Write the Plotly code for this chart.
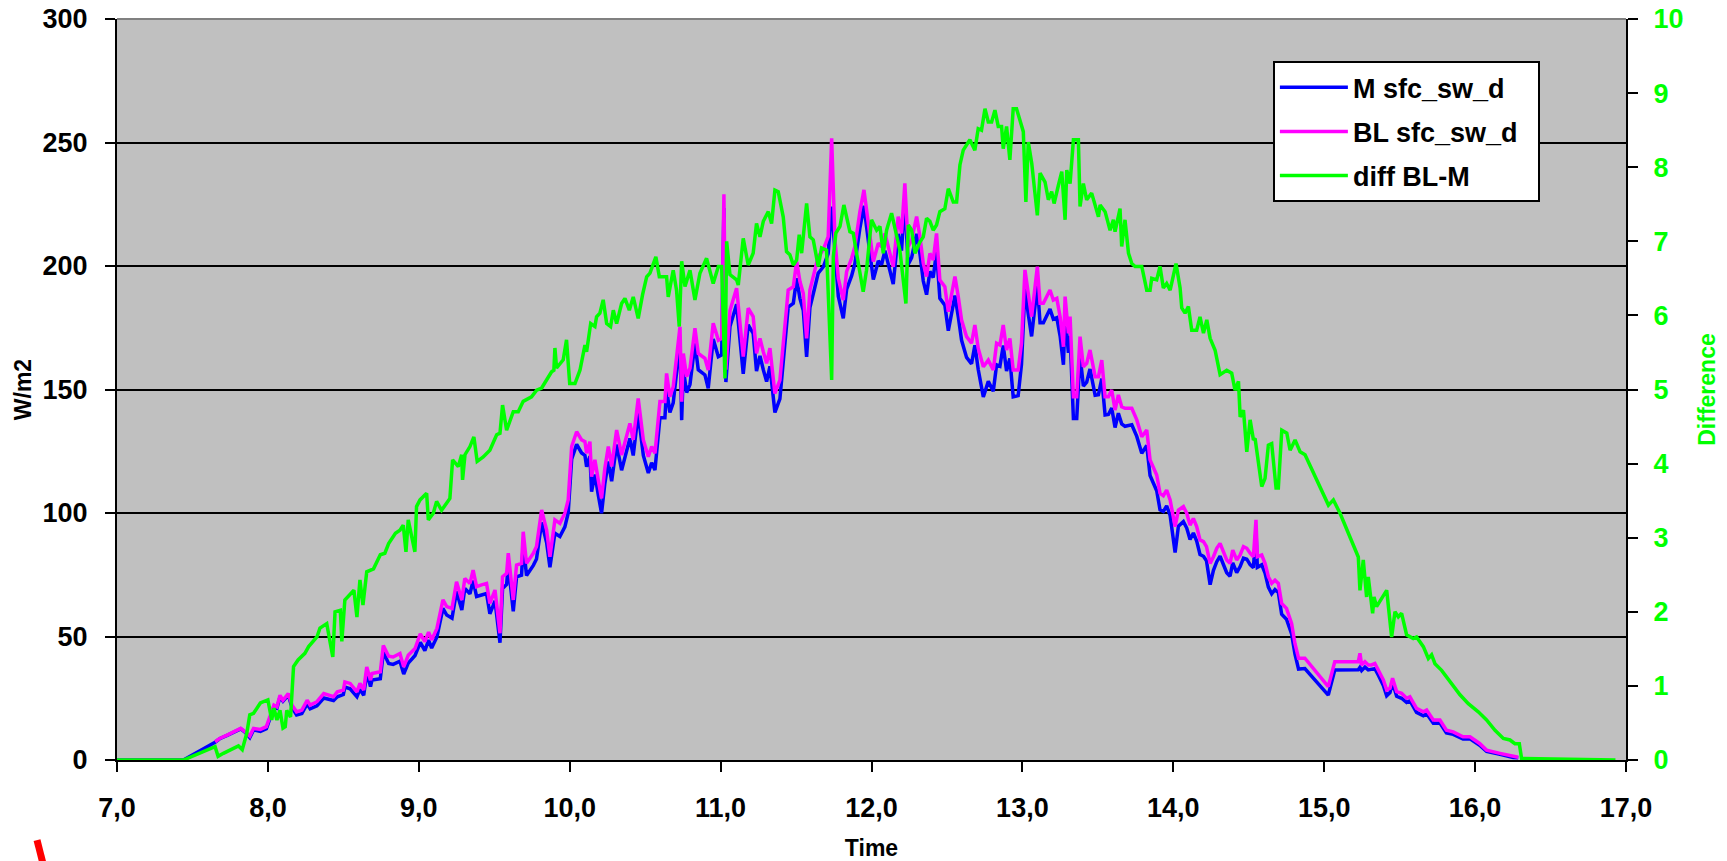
import plotly.graph_objects as go

# ---- shortwave series (shared time axis, hours) ----
t_sw = [
    7.00, 7.44, 7.65, 7.68, 7.73, 7.82, 7.85, 7.88, 7.905, 7.95,
    7.99, 8.015, 8.04, 8.06, 8.08, 8.10, 8.135, 8.16, 8.19, 8.225,
    8.26, 8.28, 8.325, 8.37, 8.435, 8.46, 8.50, 8.51, 8.545, 8.59,
    8.61, 8.635, 8.655, 8.68, 8.69, 8.745, 8.765, 8.80, 8.83, 8.875,
    8.90, 8.93, 8.975, 9.01, 9.04, 9.065, 9.085, 9.12, 9.16, 9.185,
    9.22, 9.25, 9.285, 9.305, 9.339, 9.36, 9.383, 9.416, 9.449, 9.471,
    9.505, 9.538, 9.555, 9.582, 9.593, 9.626, 9.648, 9.681, 9.692, 9.714,
    9.759, 9.78, 9.814, 9.847, 9.869, 9.902, 9.935, 9.968, 9.99, 10.013,
    10.046, 10.079, 10.101, 10.112, 10.134, 10.145, 10.167, 10.189, 10.211, 10.233,
    10.256, 10.278, 10.311, 10.344, 10.366, 10.399, 10.421, 10.454, 10.488, 10.521,
    10.543, 10.565, 10.598, 10.631, 10.642, 10.664, 10.686, 10.708, 10.731, 10.742,
    10.753, 10.775, 10.797, 10.83, 10.852, 10.896, 10.918, 10.951, 10.985, 11.007,
    11.022, 11.035, 11.062, 11.106, 11.15, 11.183, 11.216, 11.238, 11.261, 11.283,
    11.305, 11.327, 11.36, 11.393, 11.415, 11.448, 11.482, 11.504, 11.526, 11.548,
    11.57, 11.592, 11.625, 11.647, 11.68, 11.713, 11.736, 11.758, 11.78, 11.813,
    11.835, 11.868, 11.89, 11.923, 11.95, 11.967, 11.99, 12.012, 12.045, 12.067,
    12.089, 12.122, 12.144, 12.177, 12.199, 12.221, 12.243, 12.266, 12.299, 12.321,
    12.343, 12.365, 12.387, 12.409, 12.431, 12.453, 12.486, 12.509, 12.531, 12.553,
    12.575, 12.597, 12.63, 12.663, 12.685, 12.707, 12.741, 12.774, 12.807, 12.829,
    12.851, 12.873, 12.895, 12.917, 12.939, 12.972, 12.994, 13.017, 13.039, 13.061,
    13.099, 13.117, 13.139, 13.161, 13.183, 13.205, 13.228, 13.25, 13.272, 13.283,
    13.305, 13.316, 13.338, 13.36, 13.382, 13.404, 13.426, 13.448, 13.482, 13.504,
    13.526, 13.548, 13.57, 13.592, 13.614, 13.636, 13.658, 13.68, 13.725, 13.758,
    13.791, 13.824, 13.846, 13.89, 13.912, 13.934, 13.956, 13.979, 14.012, 14.034,
    14.067, 14.089, 14.111, 14.133, 14.155, 14.177, 14.2, 14.22, 14.244, 14.266,
    14.288, 14.31, 14.332, 14.354, 14.376, 14.394, 14.42, 14.443, 14.465, 14.487,
    14.509, 14.531, 14.548, 14.557, 14.586, 14.608, 14.63, 14.652, 14.674, 14.696,
    14.718, 14.75, 14.784, 14.806, 14.83, 14.872, 15.027, 15.07, 15.226, 15.237,
    15.248, 15.27, 15.292, 15.314, 15.336, 15.358, 15.392, 15.414, 15.436, 15.453,
    15.48, 15.513, 15.546, 15.568, 15.612, 15.657, 15.679, 15.723, 15.767, 15.81,
    15.855, 15.92, 15.966, 16.03, 16.076, 16.165, 16.253, 16.286,
]

bl_sw = [
    None, None, 7.4, 8.7, 10.1, 12.8, 11.4, 9.7, 12.8, 12.4,
    13.5, 18.2, 22.2, 21.5, 26.2, 24.2, 26.9, 22.2, 19.5, 20.2,
    24.2, 22.2, 23.6, 26.9, 25.6, 27.6, 28.3, 31.6, 31.0, 27.6,
    31.0, 28.3, 37.7, 32.3, 35.0, 35.7, 46.4, 42.0, 41.7, 43.1,
    37.7, 42.4, 45.1, 51.1, 47.9, 51.8, 48.6, 53.3, 64.8, 62.1,
    61.4, 72.2, 64.8, 73.5, 71.5, 76.9, 70.2, 70.9, 71.5, 63.4,
    68.8, 51.3, 74.2, 75.6, 83.7, 64.8, 78.9, 79.6, 92.4, 79.6,
    83.7, 86.4, 101.2, 93.1, 82.3, 97.2, 95.8, 99.9, 105.3, 126.9,
    132.9, 129.6, 128.9, 124.2, 128.9, 114.7, 121.5, 113.4, 105.9, 118.1,
    126.9, 118.8, 133.6, 123.5, 128.9, 136.3, 129.6, 146.4, 129.6, 122.8,
    126.9, 124.2, 145.1, 145.1, 156.5, 147.1, 151.1, 161.9, 175.4, 145.1,
    164.6, 155.2, 158.6, 174.8, 164.6, 162.6, 157.9, 176.8, 170.0, 170.7,
    229.0, 158.0, 182.0, 191.0, 163.3, 182.9, 179.5, 164.6, 170.7, 165.3,
    160.6, 166.7, 148.4, 153.8, 168.7, 190.3, 191.6, 201.8, 193.7, 188.9,
    170.7, 190.3, 198.4, 203.8, 206.5, 211.9, 251.7, 210.5, 195.0, 186.2,
    197.7, 203.1, 207.8, 222.0, 230.8, 222.7, 210.5, 201.8, 209.2, 207.8,
    213.2, 205.1, 199.7, 220.0, 213.2, 233.5, 207.8, 210.5, 220.0, 211.9,
    201.1, 195.7, 205.1, 202.4, 213.2, 194.3, 191.6, 181.5, 188.9, 195.7,
    187.6, 178.1, 171.4, 168.7, 176.1, 166.7, 159.2, 161.9, 157.9, 168.7,
    168.0, 176.1, 166.0, 170.7, 157.9, 157.9, 168.7, 198.4, 188.9, 179.5,
    199.7, 184.9, 184.9, 187.6, 190.3, 186.2, 186.9, 179.5, 167.3, 187.6,
    172.7, 179.5, 147.1, 147.1, 171.4, 159.2, 160.6, 166.0, 155.2, 155.2,
    161.9, 147.1, 147.1, 149.8, 141.7, 147.8, 143.0, 142.4, 142.4, 137.7,
    130.9, 133.6, 121.5, 115.4, 108.0, 107.0, 109.3, 105.3, 94.5, 101.2,
    102.6, 99.9, 95.1, 97.8, 94.5, 89.1, 88.4, 86.4, 79.6, 82.3,
    85.7, 87.7, 84.3, 81.0, 79.6, 85.0, 81.0, 83.0, 86.4, 85.7,
    83.7, 82.3, 97.2, 82.3, 83.0, 79.6, 74.2, 71.5, 72.8, 71.5,
    63.4, 61.4, 55.3, 47.2, 41.2, 41.2, 29.7, 39.8, 39.8, 43.2,
    38.5, 39.8, 38.5, 38.5, 39.1, 36.4, 32.4, 28.3, 29.0, 33.1,
    27.7, 27.0, 25.0, 25.6, 20.9, 19.5, 20.2, 16.2, 16.2, 12.1,
    11.4, 9.4, 9.4, 6.7, 4.0, 2.7, 1.3, 1.1,
]

m_sw = [
    0, 0, 7.2, 8.6, 10.0, 12.6, 11.2, 9.1, 12.2, 11.6,
    12.7, 17.6, 21.5, 21.0, 25.5, 23.8, 26.3, 21.2, 18.2, 18.8,
    22.7, 20.7, 21.9, 25.1, 24.1, 25.6, 26.5, 29.5, 28.8, 25.6,
    28.6, 26.2, 35.2, 29.7, 32.4, 32.9, 43.6, 39.1, 38.7, 40.0,
    34.8, 39.2, 42.3, 47.6, 44.3, 48.5, 45.3, 49.8, 61.4, 58.7,
    57.4, 68.2, 60.7, 69.4, 67.3, 72.6, 66.2, 66.8, 67.4, 59.2,
    64.4, 47.5, 69.4, 71.1, 79.0, 60.2, 74.2, 74.8, 87.6, 74.7,
    78.8, 81.4, 96.2, 88.0, 78.0, 91.8, 90.5, 94.4, 100.0, 121.8,
    127.8, 124.3, 123.3, 118.7, 123.0, 108.6, 115.6, 107.4, 99.9, 112.0,
    120.8, 112.9, 127.7, 117.3, 122.7, 130.2, 123.3, 140.4, 123.3, 116.2,
    120.3, 117.4, 138.6, 138.6, 150.0, 140.7, 144.6, 155.6, 169.5, 137.6,
    158.2, 148.8, 152.0, 168.6, 158.0, 155.9, 150.5, 170.4, 163.3, 164.0,
    223.5, 153.0, 175.5, 184.5, 156.3, 176.2, 172.7, 157.4, 163.6, 158.0,
    153.2, 159.4, 140.7, 146.2, 161.4, 183.4, 184.9, 195.0, 186.8, 182.0,
    163.2, 183.2, 191.5, 197.1, 199.6, 205.0, 224.0, 203.7, 187.8, 178.8,
    190.5, 196.0, 201.0, 215.3, 224.4, 216.0, 203.4, 194.5, 202.0, 200.6,
    206.2, 197.8, 192.7, 213.0, 206.2, 227.0, 200.6, 203.4, 213.0, 204.9,
    194.0, 188.4, 197.8, 195.3, 206.0, 186.9, 184.1, 173.8, 181.3, 188.0,
    179.5, 169.9, 163.0, 160.4, 167.9, 158.2, 147.0, 153.3, 149.3, 160.0,
    159.4, 167.8, 157.5, 162.6, 147.0, 147.5, 160.2, 190.9, 180.5, 171.5,
    192.3, 177.0, 177.0, 180.0, 182.6, 178.5, 179.1, 171.6, 160.0, 180.0,
    164.8, 171.7, 138.3, 138.3, 163.9, 151.4, 153.0, 158.3, 147.7, 147.9,
    154.4, 139.7, 139.9, 142.5, 134.6, 140.4, 136.1, 135.1, 135.7, 131.0,
    124.2, 127.3, 115.2, 109.0, 101.3, 100.6, 102.9, 99.0, 84.0, 94.7,
    96.5, 93.9, 89.3, 91.9, 88.6, 83.2, 82.5, 80.6, 71.0, 76.8,
    80.3, 82.5, 79.1, 75.8, 74.4, 79.8, 75.9, 78.3, 81.7, 81.3,
    79.1, 77.9, 92.9, 78.0, 79.0, 75.7, 70.0, 67.3, 69.0, 67.8,
    59.0, 57.0, 51.0, 43.0, 36.8, 37.0, 26.3, 36.4, 36.5, 37.5,
    36.2, 37.6, 36.5, 36.6, 37.0, 34.4, 30.2, 26.0, 27.3, 31.4,
    25.8, 25.0, 23.3, 24.0, 19.3, 17.9, 18.7, 14.9, 15.0, 11.0,
    10.4, 8.5, 8.6, 6.0, 3.5, 2.3, 1.0, 0.9,
]

# ---- difference series (right axis) ----
t_diff = [
    7.00, 7.44, 7.65, 7.67, 7.705, 7.805, 7.83, 7.86, 7.88, 7.905,
    7.95, 8.0, 8.025, 8.04, 8.06, 8.08, 8.10, 8.115, 8.125, 8.15,
    8.17, 8.20, 8.245, 8.27, 8.325, 8.345, 8.39, 8.43, 8.445, 8.48,
    8.49, 8.51, 8.57, 8.59, 8.61, 8.63, 8.655, 8.70, 8.745, 8.775,
    8.80, 8.845, 8.875, 8.897, 8.915, 8.93, 8.974, 8.985, 9.008, 9.052,
    9.063, 9.096, 9.118, 9.151, 9.206, 9.224, 9.262, 9.284, 9.29, 9.306,
    9.339, 9.365, 9.387, 9.427, 9.471, 9.516, 9.538, 9.555, 9.582, 9.626,
    9.659, 9.692, 9.747, 9.781, 9.814, 9.847, 9.88, 9.895, 9.902, 9.913,
    9.957, 9.979, 10.0, 10.035, 10.068, 10.101, 10.112, 10.139, 10.167, 10.178,
    10.2, 10.222, 10.245, 10.271, 10.289, 10.311, 10.344, 10.366, 10.395, 10.421,
    10.454, 10.483, 10.51, 10.532, 10.571, 10.594, 10.642, 10.653, 10.686, 10.708,
    10.726, 10.742, 10.764, 10.797, 10.83, 10.863, 10.907, 10.951, 10.985, 11.007,
    11.029, 11.04, 11.062, 11.106, 11.117, 11.15, 11.183, 11.216, 11.238, 11.261,
    11.283, 11.316, 11.338, 11.36, 11.382, 11.415, 11.437, 11.459, 11.482, 11.504,
    11.521, 11.537, 11.57, 11.592, 11.614, 11.647, 11.669, 11.702, 11.736, 11.747,
    11.764, 11.791, 11.817, 11.857, 11.879, 11.901, 11.945, 11.967, 12.0, 12.034,
    12.056, 12.078, 12.1, 12.133, 12.166, 12.188, 12.228, 12.244, 12.266, 12.288,
    12.321, 12.343, 12.365, 12.387, 12.409, 12.431, 12.453, 12.486, 12.509, 12.542,
    12.564, 12.586, 12.608, 12.652, 12.685, 12.707, 12.729, 12.752, 12.774, 12.796,
    12.818, 12.84, 12.862, 12.873, 12.895, 12.917, 12.939, 12.961, 13.006, 13.023,
    13.039, 13.062, 13.099, 13.117, 13.15, 13.172, 13.194, 13.21, 13.239, 13.261,
    13.283, 13.294, 13.316, 13.338, 13.371, 13.382, 13.404, 13.426, 13.459, 13.482,
    13.504, 13.515, 13.548, 13.581, 13.603, 13.614, 13.647, 13.658, 13.68, 13.703,
    13.725, 13.747, 13.791, 13.824, 13.846, 13.857, 13.89, 13.912, 13.934, 13.956,
    13.979, 14.018, 14.045, 14.056, 14.078, 14.1, 14.122, 14.155, 14.177, 14.2,
    14.222, 14.244, 14.277, 14.31, 14.354, 14.387, 14.409, 14.432, 14.443, 14.465,
    14.487, 14.509, 14.531, 14.542, 14.564, 14.586, 14.608, 14.63, 14.652, 14.663,
    14.681, 14.696, 14.719, 14.752, 14.774, 14.807, 14.84, 14.873, 15.028, 15.061,
    15.105, 15.226, 15.237, 15.259, 15.281, 15.292, 15.321, 15.33, 15.347, 15.414,
    15.447, 15.469, 15.491, 15.513, 15.546, 15.59, 15.612, 15.657, 15.69, 15.712,
    15.734, 15.778, 15.811, 15.844, 15.9, 15.955, 16.021, 16.076, 16.132, 16.187,
    16.231, 16.264, 16.293, 16.308, 16.93,
]

diff = [
    0, 0, 0.18, 0.05, 0.09, 0.19, 0.14, 0.36, 0.61, 0.63,
    0.77, 0.81, 0.54, 0.70, 0.54, 0.67, 0.43, 0.45, 0.67, 0.58,
    1.26, 1.35, 1.44, 1.53, 1.66, 1.78, 1.84, 1.39, 2.0, 2.02,
    1.60, 2.16, 2.29, 1.93, 2.43, 2.09, 2.54, 2.58, 2.77, 2.79,
    2.92, 3.06, 3.10, 3.17, 2.81, 3.24, 2.81, 3.42, 3.51, 3.60,
    3.24, 3.33, 3.49, 3.37, 3.53, 4.05, 3.96, 4.12, 3.78, 4.12,
    4.23, 4.36, 4.03, 4.09, 4.18, 4.39, 4.41, 4.79, 4.45, 4.70,
    4.70, 4.84, 4.90, 4.99, 5.02, 5.13, 5.24, 5.26, 5.56, 5.29,
    5.40, 5.67, 5.08, 5.08, 5.26, 5.60, 5.51, 5.89, 5.85, 5.98,
    6.03, 6.21, 5.89, 5.85, 6.07, 5.89, 6.16, 6.23, 6.07, 6.25,
    5.96, 6.28, 6.52, 6.57, 6.79, 6.52, 6.52, 6.25, 6.61, 6.34,
    5.85, 6.73, 6.39, 6.61, 6.21, 6.57, 6.77, 6.43, 6.66, 6.66,
    5.15, 7.0, 6.55, 6.48, 6.41, 7.04, 6.68, 6.84, 7.24, 7.06,
    7.27, 7.40, 7.24, 7.69, 7.67, 7.33, 6.86, 6.82, 6.68, 6.75,
    7.09, 6.84, 7.51, 7.06, 7.02, 6.66, 6.91, 6.88, 5.13, 6.79,
    7.11, 7.20, 7.49, 7.13, 7.11, 6.84, 6.32, 6.61, 7.29, 7.15,
    7.20, 6.84, 7.15, 7.38, 7.06, 6.88, 6.16, 7.22, 7.15, 6.84,
    6.99, 7.06, 7.31, 7.27, 7.15, 7.22, 7.40, 7.44, 7.71, 7.53,
    7.53, 8.03, 8.23, 8.37, 8.23, 8.52, 8.50, 8.79, 8.61, 8.61,
    8.77, 8.55, 8.55, 8.25, 8.55, 8.10, 8.79, 8.79, 8.48, 7.53,
    8.34, 8.05, 7.35, 7.92, 7.80, 7.56, 7.67, 7.51, 7.76, 7.94,
    7.29, 7.96, 7.78, 8.37, 8.37, 7.47, 7.78, 7.56, 7.65, 7.49,
    7.33, 7.49, 7.40, 7.15, 7.29, 7.13, 7.44, 6.93, 7.29, 6.84,
    6.70, 6.66, 6.66, 6.34, 6.34, 6.50, 6.48, 6.66, 6.37, 6.43,
    6.34, 6.70, 6.37, 6.10, 6.03, 6.12, 5.80, 5.80, 5.98, 5.76,
    5.94, 5.69, 5.53, 5.20, 5.26, 5.22, 4.99, 5.11, 4.63, 4.72,
    4.16, 4.59, 4.32, 4.34, 4.0, 3.69, 3.80, 4.25, 4.27, 4.05,
    3.67, 3.67, 4.45, 4.41, 4.18, 4.32, 4.16, 4.12, 3.44, 3.51,
    3.33, 2.74, 2.29, 2.70, 2.20, 2.47, 1.98, 2.20, 2.07, 2.29,
    1.66, 2.0, 1.93, 1.98, 1.69, 1.64, 1.66, 1.53, 1.37, 1.42,
    1.30, 1.21, 1.12, 1.03, 0.88, 0.76, 0.65, 0.54, 0.40, 0.29,
    0.27, 0.22, 0.22, 0.02, 0,
]

series_names = ["M sfc_sw_d", "BL sfc_sw_d", "diff BL-M"]

assert len(t_sw) == len(bl_sw) == len(m_sw), (len(t_sw), len(bl_sw), len(m_sw))
assert len(t_diff) == len(diff), (len(t_diff), len(diff))

FONT = "Liberation Sans, Arial, sans-serif"
GREEN = "#00FF00"
PAD = "\u00a0\u00a0"

fig = go.Figure()
fig.add_trace(go.Scatter(x=t_sw, y=m_sw, name=series_names[0] + PAD, mode="lines",
                         legendgroup="g1", line=dict(color="#0000FF", width=3.5)))
fig.add_trace(go.Scatter(x=t_sw, y=bl_sw, name=series_names[1] + PAD, mode="lines",
                         legendgroup="g2", line=dict(color="#FF00FF", width=3.5)))
fig.add_trace(go.Scatter(x=t_diff, y=diff, name=series_names[2] + PAD, mode="lines",
                         legendgroup="g3", yaxis="y2", line=dict(color=GREEN, width=3.5)))

fig.update_layout(
    width=1727, height=861,
    autosize=False,
    margin=dict(l=117, r=101, t=19, b=101, pad=0, autoexpand=False),
    paper_bgcolor="white",
    plot_bgcolor="#C0C0C0",
    separators=",.",
    font=dict(family=FONT, size=27, color="black", weight="bold"),
    showlegend=True,
    legend=dict(x=0.766, y=0.943, xanchor="left", yanchor="top",
                bgcolor="white", bordercolor="black", borderwidth=2,
                font=dict(family=FONT, size=27, color="black", weight="bold"),
                itemwidth=68, traceorder="grouped", tracegroupgap=6),
    xaxis=dict(range=[7, 17], tickmode="linear", tick0=7, dtick=1, automargin=False,
               tickformat=".1f", ticks="outside", ticklen=10, tickwidth=2,
               tickcolor="black", showline=True, linecolor="black", linewidth=2,
               showgrid=False, zeroline=False, ticklabelstandoff=13,
               tickfont=dict(family=FONT, size=27, color="black", weight="bold"),
               title=dict(text="Time", standoff=24,
                          font=dict(family=FONT, size=23, color="black", weight="bold"))),
    yaxis=dict(range=[0, 300], tickmode="linear", tick0=0, dtick=50, automargin=False,
               ticks="outside", ticklen=10, tickwidth=2, tickcolor="black",
               showline=True, linecolor="black", linewidth=2,
               showgrid=True, gridcolor="black", gridwidth=1.5, zeroline=False,
               ticklabelstandoff=12,
               tickfont=dict(family=FONT, size=27, color="black", weight="bold"),
               title=dict(text="W/m2", standoff=4,
                          font=dict(family=FONT, size=23, color="black", weight="bold"))),
    yaxis2=dict(range=[0, 10], tickmode="linear", tick0=0, dtick=1, automargin=False,
                overlaying="y", side="right",
                ticks="outside", ticklen=10, tickwidth=2, tickcolor="black",
                showline=True, linecolor="black", linewidth=2,
                showgrid=False, zeroline=False, ticklabelstandoff=10,
                tickfont=dict(family=FONT, size=27, color=GREEN, weight="bold"),
                title=dict(text="Difference", standoff=16,
                           font=dict(family=FONT, size=23, color=GREEN, weight="bold"))),
    shapes=[
        dict(type="line", xref="paper", yref="paper", x0=0, x1=1, y0=1, y1=1,
             line=dict(color="#808080", width=2), layer="above"),
        dict(type="line", xref="paper", yref="paper",
             x0=-0.0530, y0=-0.108, x1=-0.0484, y1=-0.145,
             line=dict(color="#FF0000", width=7), layer="above"),
    ],
)

fig.write_html("out.html", config={"displayModeBar": False},
               post_script="document.body.style.margin='0';document.body.style.overflow='hidden';")
